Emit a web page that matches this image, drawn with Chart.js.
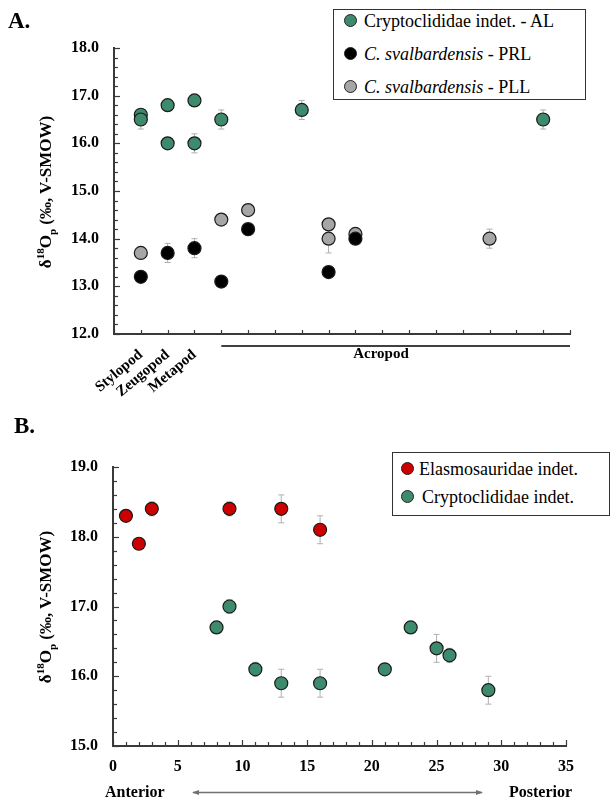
<!DOCTYPE html>
<html>
<head>
<meta charset="utf-8">
<script src="https://cdn.jsdelivr.net/npm/chart.js@4.4.1/dist/chart.umd.min.js"></script>
<style>
    body { margin:0; background:#fff; width:610px; height:802px; position:relative; overflow:hidden; font-family:"Liberation Serif","Times New Roman",serif; color:#000; }
    canvas { position:absolute; left:0; }
    .txt { position:absolute; white-space:nowrap; font-weight:bold; }
    .ylab { position:absolute; white-space:nowrap; font-weight:bold; font-size:17px; transform:translate(-50%,-50%) rotate(-90deg); }
    .ylab sup, .ylab sub { font-size:11px; }
    .legend { position:absolute; border:1px solid #333; background:#fff; font-size:18px; }
    .legend .row { position:absolute; left:0; white-space:nowrap; height:20px; line-height:20px; }
    .legend .dot { position:absolute; width:11px; height:11px; border-radius:50%; border:1px solid #222; top:3px; }
    .legend .lt { position:absolute; top:0; }
</style>
</head>
<body>
<canvas id="chartA" width="610" height="400" style="top:0"></canvas>
<canvas id="chartB" width="610" height="402" style="top:400px"></canvas>

<div class="txt" style="left:8px;top:8px;font-size:23px;">A.</div>
<div class="txt" style="left:14px;top:413px;font-size:23px;">B.</div>
<div class="ylab" style="left:46px;top:192px;">δ<sup>18</sup>O<sub>p</sub> (‰, V-SMOW)</div>
<div class="ylab" style="left:46px;top:607px;">δ<sup>18</sup>O<sub>p</sub> (‰, V-SMOW)</div>
<div class="txt" style="left:381px;top:345px;font-size:15px;transform:translateX(-50%);">Acropod</div>
<div class="txt" style="left:105px;top:783px;font-size:16px;">Anterior</div>
<div class="txt" style="left:509px;top:783px;font-size:16px;">Posterior</div>

<div class="legend" style="left:333px;top:9px;width:251px;height:89px;">
    <div class="row" style="top:1px;"><span class="dot" style="left:10px;background:#3d8a6d;"></span><span class="lt" style="left:30px;">Cryptoclididae indet. - AL</span></div>
    <div class="row" style="top:34px;"><span class="dot" style="left:10px;background:#000;"></span><span class="lt" style="left:30px;"><i>C. svalbardensis</i> - PRL</span></div>
    <div class="row" style="top:67px;"><span class="dot" style="left:10px;background:#a6a6a6;"></span><span class="lt" style="left:30px;"><i>C. svalbardensis</i> - PLL</span></div>
</div>
<div class="legend" style="left:392px;top:452px;width:216px;height:62px;">
    <div class="row" style="top:6px;"><span class="dot" style="left:8px;background:#cc0000;"></span><span class="lt" style="left:26px;">Elasmosauridae indet.</span></div>
    <div class="row" style="top:34px;"><span class="dot" style="left:8px;background:#3d8a6d;"></span><span class="lt" style="left:29px;">Cryptoclididae indet.</span></div>
</div>

<script>
// --- painel A: elementos do membro ---
const partNames = { 1: 'Stylopod', 2: 'Zeugopod', 3: 'Metapod' };

const alX   = [1, 1, 2, 2, 3, 3, 4, 7, 16];
const alY   = [16.6, 16.5, 16.8, 16.0, 16.9, 16.0, 16.5, 16.7, 16.5];
const alErr = [0.05, 0.2, 0.05, 0.05, 0.08, 0.2, 0.2, 0.2, 0.2];

const prlX   = [1, 2, 3, 4, 5, 8, 9];
const prlY   = [13.2, 13.7, 13.8, 13.1, 14.2, 13.3, 14.0];
const prlErr = [0.05, 0.2, 0.2, 0.05, 0.05, 0.05, 0.05];

const pllX   = [1, 4, 5, 8, 8, 9, 14];
const pllY   = [13.7, 14.4, 14.6, 14.3, 14.0, 14.1, 14.0];
const pllErr = [0.05, 0.05, 0.05, 0.05, 0.3, 0.05, 0.2];

// --- painel B: vertebras ---
const elX   = [1, 2, 3, 9, 13, 16];
const elY   = [18.3, 17.9, 18.4, 18.4, 18.4, 18.1];
const elErr = [0.05, 0.05, 0.1, 0.1, 0.2, 0.2];

const crX   = [8, 9, 11, 13, 16, 21, 23, 25, 26, 29];
const crY   = [16.7, 17.0, 16.1, 15.9, 15.9, 16.1, 16.7, 16.4, 16.3, 15.8];
const crErr = [0.05, 0.1, 0.1, 0.2, 0.2, 0.05, 0.05, 0.2, 0.1, 0.2];

const GREEN = '#3d8a6d', RED = '#cc0000', GRAY = '#a6a6a6', AXIS = '#3a3a3a';
const serif = '"Liberation Serif", "Times New Roman", serif';

function pts(xs, ys) { return xs.map((x, i) => ({ x: x, y: ys[i] })); }

function ds(xs, ys, errs, color) {
    return {
        data: pts(xs, ys), err: errs,
        backgroundColor: color, borderColor: '#1a1a1a', borderWidth: 1.2,
        pointRadius: 6.5, pointHoverRadius: 6.5
    };
}

// barras de erro (cinza, por baixo dos pontos)
const errorBars = {
    id: 'errorBars',
    beforeDatasetsDraw(chart) {
        const { ctx, scales: { x, y } } = chart;
        ctx.save();
        ctx.strokeStyle = '#b0b0b0';
        ctx.lineWidth = 1;
        chart.data.datasets.forEach(d => {
            d.data.forEach((p, i) => {
                const e = d.err[i];
                const px = x.getPixelForValue(p.x);
                const y1 = y.getPixelForValue(p.y - e), y2 = y.getPixelForValue(p.y + e);
                ctx.beginPath();
                ctx.moveTo(px, y1); ctx.lineTo(px, y2);
                ctx.moveTo(px - 3, y1); ctx.lineTo(px + 3, y1);
                ctx.moveTo(px - 3, y2); ctx.lineTo(px + 3, y2);
                ctx.stroke();
            });
        });
        ctx.restore();
    }
};

// marcas de escala para dentro
const innerTicks = {
    id: 'innerTicks',
    afterDraw(chart, args, opts) {
        const { ctx, chartArea: a, scales: { x, y } } = chart;
        ctx.save();
        ctx.strokeStyle = AXIS;
        ctx.lineWidth = 1.2;
        for (let v = y.min; v <= y.max + 1e-6; v += opts.yMinor) {
            const py = Math.round(y.getPixelForValue(v)) + 0.5;
            const major = Math.abs(v - Math.round(v)) < 1e-6;
            ctx.beginPath(); ctx.moveTo(a.left, py); ctx.lineTo(a.left + (major ? 6 : 4), py); ctx.stroke();
        }
        for (let v = x.min; v <= x.max + 1e-6; v += 1) {
            const px = Math.round(x.getPixelForValue(v)) + 0.5;
            const major = opts.xMajor && v % opts.xMajor === 0;
            ctx.beginPath(); ctx.moveTo(px, a.bottom); ctx.lineTo(px, a.bottom - (major ? 6 : 4)); ctx.stroke();
        }
        if (opts.extra) opts.extra(chart);
        ctx.restore();
    }
};

function axisOpts(min, max, step, fontSize, padding, fixed) {
    return {
        type: 'linear', min: min, max: max,
        grid: { display: false, drawTicks: false },
        border: { display: true, color: AXIS, width: 2 },
        ticks: { stepSize: step, padding: padding, color: '#000', font: { family: serif, size: fontSize, weight: 'bold' } },
        afterFit: fixed
    };
}

// Grafico A
const xA = axisOpts(0, 17, 1, 15, 12, s => { s.height = 66; });
xA.ticks.autoSkip = false;
xA.ticks.minRotation = 40;
xA.ticks.maxRotation = 40;
xA.ticks.callback = v => partNames[v] || '';
const yA = axisOpts(12, 18, 1, 16, 15, s => { s.width = 114; });
yA.ticks.callback = v => v.toFixed(1);

new Chart(document.getElementById('chartA'), {
    type: 'scatter',
    data: { datasets: [ds(alX, alY, alErr, GREEN), ds(prlX, prlY, prlErr, '#000'), ds(pllX, pllY, pllErr, GRAY)] },
    options: {
        responsive: false, animation: false, devicePixelRatio: 1,
        layout: { padding: { top: 48, right: 40, left: 0, bottom: 0 } },
        scales: { x: xA, y: yA },
        plugins: {
            legend: { display: false }, tooltip: { enabled: false },
            innerTicks: {
                yMinor: 0.2, xMajor: 0,
                extra(chart) {
                    const { ctx, chartArea: a, scales: { x } } = chart;
                    ctx.strokeStyle = '#000'; ctx.lineWidth = 1.5;
                    ctx.beginPath();
                    ctx.moveTo(x.getPixelForValue(4), a.bottom + 12);
                    ctx.lineTo(x.getPixelForValue(17), a.bottom + 12);
                    ctx.stroke();
                }
            }
        }
    },
    plugins: [errorBars, innerTicks]
});

// Grafico B
const xB = axisOpts(0, 35, 5, 16, 11, s => { s.height = 56; });
const yB = axisOpts(15, 19, 1, 16, 15, s => { s.width = 113; });
yB.ticks.callback = v => v.toFixed(1);

new Chart(document.getElementById('chartB'), {
    type: 'scatter',
    data: { datasets: [ds(elX, elY, elErr, RED), ds(crX, crY, crErr, GREEN)] },
    options: {
        responsive: false, animation: false, devicePixelRatio: 1,
        layout: { padding: { top: 67, right: 44, left: 0, bottom: 0 } },
        scales: { x: xB, y: yB },
        plugins: {
            legend: { display: false }, tooltip: { enabled: false },
            innerTicks: {
                yMinor: 0.2, xMajor: 5,
                extra(chart) {
                    // seta anterior <-> posterior
                    const ctx = chart.ctx;
                    const yy = 392.5, x1 = 193, x2 = 482;
                    ctx.strokeStyle = '#707070'; ctx.fillStyle = '#707070'; ctx.lineWidth = 1.5;
                    ctx.beginPath(); ctx.moveTo(x1, yy); ctx.lineTo(x2, yy); ctx.stroke();
                    ctx.beginPath(); ctx.moveTo(x1 - 1, yy); ctx.lineTo(x1 + 6, yy - 2.5); ctx.lineTo(x1 + 6, yy + 2.5); ctx.closePath(); ctx.fill();
                    ctx.beginPath(); ctx.moveTo(x2 + 1, yy); ctx.lineTo(x2 - 6, yy - 2.5); ctx.lineTo(x2 - 6, yy + 2.5); ctx.closePath(); ctx.fill();
                }
            }
        }
    },
    plugins: [errorBars, innerTicks]
});
</script>
</body>
</html>
